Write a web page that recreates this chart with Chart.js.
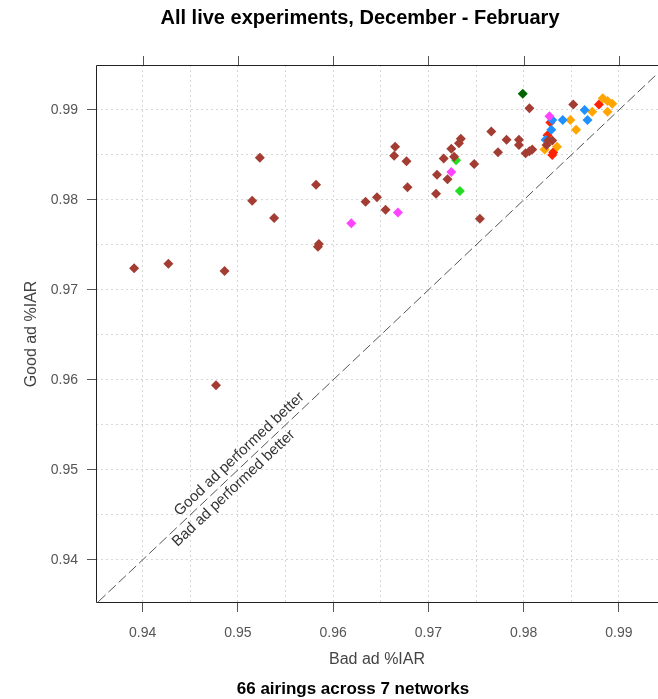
<!DOCTYPE html>
<html>
<head>
<meta charset="utf-8">
<script src="https://cdn.jsdelivr.net/npm/chart.js@4"></script>
<style>
  html, body { margin: 0; padding: 0; background: #fff; }
</style>
</head>
<body>
<canvas id="myChart" width="658" height="699"></canvas>
<script>
// axis ticks (labelled) - minor grid lines sit half way between
const xTicks = [0.94, 0.95, 0.96, 0.97, 0.98, 0.99];
const yTicks = [0.94, 0.95, 0.96, 0.97, 0.98, 0.99];
const tickLabels = ['0.94', '0.95', '0.96', '0.97', '0.98', '0.99'];

// one series per network: bad ad %IAR (x) vs good ad %IAR (y)
const brownX = [0.9391, 0.9427, 0.9486, 0.9477, 0.9515, 0.9523, 0.9538, 0.9582, 0.9584, 0.9585,
                0.9634, 0.9646, 0.9655, 0.9665, 0.9664, 0.9677, 0.9678, 0.9708, 0.9709, 0.9716,
                0.9720, 0.9724, 0.9727, 0.9732, 0.9734, 0.9748, 0.9754, 0.9766, 0.9773, 0.9782,
                0.9795, 0.9795, 0.9802, 0.9806, 0.9809, 0.9806, 0.9852, 0.9826, 0.9830, 0.9824];
const brownY = [0.9724, 0.9729, 0.9721, 0.9594, 0.9799, 0.9847, 0.9780, 0.9817, 0.9748, 0.9751,
                0.9798, 0.9803, 0.9789, 0.9859, 0.9849, 0.9843, 0.9814, 0.9807, 0.9828, 0.9846,
                0.9823, 0.9857, 0.9848, 0.9863, 0.9868, 0.9840, 0.9779, 0.9876, 0.9853, 0.9867,
                0.9867, 0.9861, 0.9852, 0.9854, 0.9856, 0.9902, 0.9906, 0.9866, 0.9866, 0.9861];
const darkGreenX = [0.9799];
const darkGreenY = [0.9918];
const greenX = [0.9729, 0.9733];
const greenY = [0.9844, 0.9810];
const magentaX = [0.9619, 0.9668, 0.9724, 0.9827];
const magentaY = [0.9774, 0.9786, 0.9831, 0.9893];
const blueX = [0.9864, 0.9867, 0.9841, 0.9830, 0.9829, 0.9823];
const blueY = [0.9900, 0.9889, 0.9889, 0.9889, 0.9878, 0.9867];
const orangeX = [0.9883, 0.9888, 0.9893, 0.9872, 0.9888, 0.9849, 0.9855, 0.9835, 0.9822];
const orangeY = [0.9913, 0.9910, 0.9907, 0.9898, 0.9898, 0.9889, 0.9878, 0.9859, 0.9856];
const redX = [0.9879, 0.9828, 0.9825, 0.9830, 0.9831];
const redY = [0.9906, 0.9886, 0.9872, 0.9850, 0.9853];

const X_MIN = 0.9351, X_MAX = 0.9941;
const Y_MIN = 0.9352, Y_MAX = 0.9950;

const pts = (xs, ys) => xs.map((v, i) => ({ x: v, y: ys[i] }));
const series = (label, xs, ys, color) => ({
  label,
  data: pts(xs, ys),
  backgroundColor: color,
  borderWidth: 0,
  pointStyle: 'rectRot',
  pointRadius: 5,
  pointHoverRadius: 5,
});

// grid every 0.005, labels only on the 0.01 ticks
const gridOf = (ticks) => {
  const out = [ticks[0] - 0.005];
  ticks.forEach(t => { out.push(t); out.push(t + 0.005); });
  return out;
};
const isMajor = (v, ticks) => ticks.some(t => Math.abs(t - v) < 1e-6);
const labelOf = (v, ticks) => {
  const i = ticks.findIndex(t => Math.abs(t - v) < 1e-6);
  return i < 0 ? '' : tickLabels[i];
};

const FONT = "'Liberation Sans', Arial, sans-serif";

// frame (right side is cut off in the original), top tick marks, titles, diagonal labels
const decorations = {
  id: 'decorations',
  afterDatasetsDraw(chart) {
    const { ctx, chartArea: { top, bottom, left, right }, scales: { x, y } } = chart;
    ctx.save();
    ctx.strokeStyle = '#222';
    ctx.lineWidth = 1;
    ctx.beginPath();
    ctx.moveTo(right, top + 0.5);
    ctx.lineTo(left + 0.5, top + 0.5);
    ctx.lineTo(left + 0.5, bottom - 0.5);
    ctx.lineTo(right, bottom - 0.5);
    ctx.stroke();

    ctx.strokeStyle = '#555';
    xTicks.forEach(t => {
      const px = Math.round(x.getPixelForValue(t)) + 0.5;
      ctx.beginPath();
      ctx.moveTo(px, top);
      ctx.lineTo(px, top - 9);
      ctx.stroke();
    });

    // text on the y = x line
    const ang = Math.atan2(y.getPixelForValue(0.96) - y.getPixelForValue(0.95),
                           x.getPixelForValue(0.96) - x.getPixelForValue(0.95));
    ctx.fillStyle = '#333';
    ctx.font = '15px ' + FONT;
    ctx.textAlign = 'center';
    const onLine = (v, text, off, base) => {
      ctx.save();
      ctx.translate(x.getPixelForValue(v), y.getPixelForValue(v));
      ctx.rotate(ang);
      ctx.textBaseline = base;
      ctx.fillText(text, 0, off);
      ctx.restore();
    };
    onLine(0.9509, 'Good ad performed better', -3, 'bottom');
    onLine(0.9488, 'Bad ad performed better', 3, 'top');

    ctx.fillStyle = '#000';
    ctx.textBaseline = 'middle';
    ctx.font = 'bold 20px ' + FONT;
    ctx.fillText('All live experiments, December - February', 360, 18);
    ctx.font = 'bold 17px ' + FONT;
    ctx.fillText('66 airings across 7 networks', 353, 689);
    ctx.restore();
  },
};

const config = {
  type: 'scatter',
  data: {
    datasets: [
      {
        label: 'y = x',
        type: 'line',
        data: [{ x: 0.93, y: 0.93 }, { x: 1.0, y: 1.0 }],
        borderColor: '#555',
        borderWidth: 1,
        borderDash: [10, 4],
        pointRadius: 0,
        showLine: true,
        fill: false,
      },
      series('brown', brownX, brownY, '#a33d33'),
      series('darkgreen', darkGreenX, darkGreenY, '#006400'),
      series('green', greenX, greenY, '#22dd22'),
      series('magenta', magentaX, magentaY, '#ff44ff'),
      series('blue', blueX, blueY, '#1e90ff'),
      series('orange', orangeX, orangeY, '#ffa500'),
      series('red', redX, redY, '#ff2200'),
    ],
  },
  options: {
    responsive: false,
    animation: false,
    layout: { autoPadding: false, padding: { top: 65, right: 0, bottom: 0, left: 0 } },
    plugins: {
      legend: { display: false },
      tooltip: { enabled: false },
    },
    scales: {
      x: {
        type: 'linear',
        min: X_MIN,
        max: X_MAX,
        afterBuildTicks: (s) => { s.ticks = gridOf(xTicks).filter(v => v > X_MIN && v < X_MAX).map(v => ({ value: v })); },
        afterFit: (s) => { s.height = 96; s.paddingLeft = 0; s.paddingRight = 0; },
        border: { display: false, dash: [2, 3] },
        grid: {
          color: '#d6d6d6',
          tickLength: 9,
          tickColor: (c) => isMajor(c.tick.value, xTicks) ? '#555' : 'rgba(0,0,0,0)',
        },
        ticks: {
          autoSkip: false,
          maxRotation: 0,
          padding: 13,
          color: '#555',
          font: { family: FONT, size: 14 },
          callback: (v) => labelOf(v, xTicks),
        },
        title: {
          display: true,
          text: 'Bad ad %IAR',
          color: '#444',
          font: { family: FONT, size: 16 },
          padding: { top: 0, bottom: 30 },
        },
      },
      y: {
        type: 'linear',
        min: Y_MIN,
        max: Y_MAX,
        afterBuildTicks: (s) => { s.ticks = gridOf(yTicks).filter(v => v > Y_MIN && v < Y_MAX).map(v => ({ value: v })); },
        afterFit: (s) => { s.width = 96; s.paddingTop = 0; s.paddingBottom = 0; },
        border: { display: false, dash: [2, 3] },
        grid: {
          color: '#d6d6d6',
          tickLength: 9,
          tickColor: (c) => isMajor(c.tick.value, yTicks) ? '#555' : 'rgba(0,0,0,0)',
        },
        ticks: {
          autoSkip: false,
          padding: 9,
          color: '#555',
          font: { family: FONT, size: 14 },
          callback: (v) => labelOf(v, yTicks),
        },
        title: {
          display: true,
          text: 'Good ad %IAR',
          color: '#444',
          font: { family: FONT, size: 16 },
          padding: { top: 22, bottom: 0 },
        },
      },
    },
  },
  plugins: [decorations],
};

const myChart = new Chart(document.getElementById('myChart'), config);
</script>
</body>
</html>
